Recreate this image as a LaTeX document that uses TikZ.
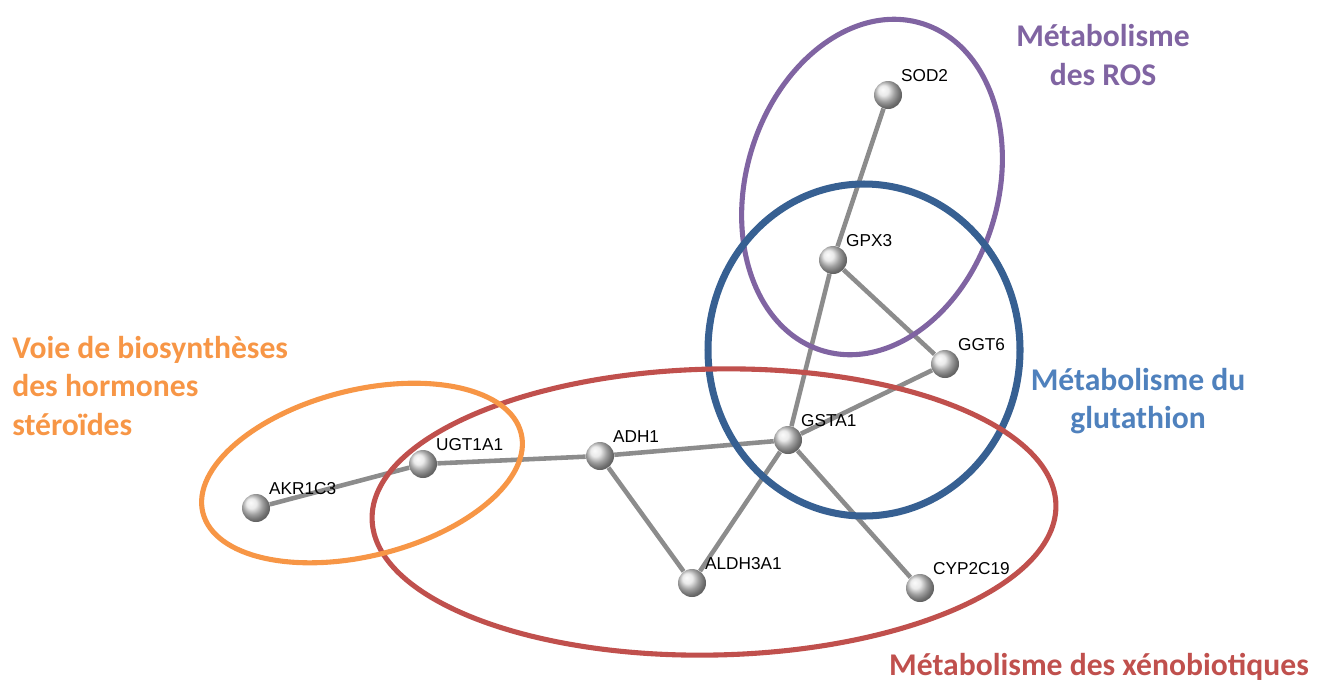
\documentclass[tikz,border=0pt]{standalone}
\usepackage{fontspec}
\setmainfont{Liberation Sans}
\newfontfamily\calibri{Carlito}
\usetikzlibrary{backgrounds}
\definecolor{rosPurple}{HTML}{8064A2}
\definecolor{glutBlue}{HTML}{376092}
\definecolor{glutText}{HTML}{4F81BD}
\definecolor{xenoRed}{HTML}{C0504D}
\definecolor{sterOrange}{HTML}{F79646}
\begin{document}
\begin{tikzpicture}[x=0.02cm, y=-0.02cm,
  gene/.style={circle, minimum size=0.56cm, inner sep=0pt, shading=ball, ball color=gray!22},
  genelbl/.style={font=\fontsize{9.8}{11}\selectfont, inner sep=1.5pt},
  link/.style={draw=gray!90, line width=2.6pt},
  group/.style={line width=2.9pt},
  grouptxt/.style={font=\calibri\bfseries\fontsize{18}{22}\selectfont, inner sep=0pt}]
  \useasboundingbox (0,0) rectangle (1324,684);

  % Genes
  \node[gene, label={[genelbl]45:SOD2}] (sod2) at (888,95) {};
  \node[gene, label={[genelbl]45:GPX3}] (gpx3) at (833,260) {};
  \node[gene, label={[genelbl]45:GGT6}] (ggt6) at (945,364) {};
  \node[gene, label={[genelbl]45:GSTA1}] (gsta1) at (788,440) {};
  \node[gene, label={[genelbl]45:ADH1}] (adh1) at (600,456) {};
  \node[gene, label={[genelbl]45:UGT1A1}] (ugt1a1) at (423,464) {};
  \node[gene, label={[genelbl]45:AKR1C3}] (akr1c3) at (256,508) {};
  \node[gene, label={[genelbl]45:ALDH3A1}] (aldh3a1) at (692,583) {};
  \node[gene, label={[genelbl]45:CYP2C19}] (cyp2c19) at (920,588) {};

  % Interactions behind the genes
  \begin{pgfonlayer}{background}
    \draw[link] (sod2) -- (gpx3);
    \draw[link] (gpx3) -- (gsta1);
    \draw[link] (gpx3) -- (ggt6);
    \draw[link] (ggt6) -- (gsta1);
    \draw[link] (gsta1) -- (adh1);
    \draw[link] (adh1) -- (ugt1a1);
    \draw[link] (ugt1a1) -- (akr1c3);
    \draw[link] (adh1) -- (aldh3a1);
    \draw[link] (aldh3a1) -- (gsta1);
    \draw[link] (gsta1) -- (cyp2c19);
  \end{pgfonlayer}

  % Pathway groups
  \draw[group, rosPurple, rotate around={-16.8:(872,187)}] (872,187) ellipse [x radius=126, y radius=171];
  \draw[group, glutBlue, line width=4pt] (864,350) ellipse [x radius=156, y radius=166];
  \draw[group, xenoRed, rotate around={1.2:(714,512)}] (714,512) ellipse [x radius=342, y radius=143];
  \draw[group, sterOrange, rotate around={14:(362,473)}] (362,473) ellipse [x radius=164, y radius=83];

  % Pathway names
  \node[grouptxt, rosPurple, align=center] (rosTxt) at (1103,55) {Métabolisme\\des ROS};
  \node[grouptxt, glutText, align=center] (glutTxt) at (1138,401) {Métabolisme du\\glutathion};
  \node[grouptxt, sterOrange, align=left, anchor=west] (sterTxt) at (12,386) {Voie de biosynthèses\\des hormones\\stéroïdes};
  \node[grouptxt, xenoRed] (xenoTxt) at (1099,667) {Métabolisme des xénobiotiques};
\end{tikzpicture}
\end{document}
